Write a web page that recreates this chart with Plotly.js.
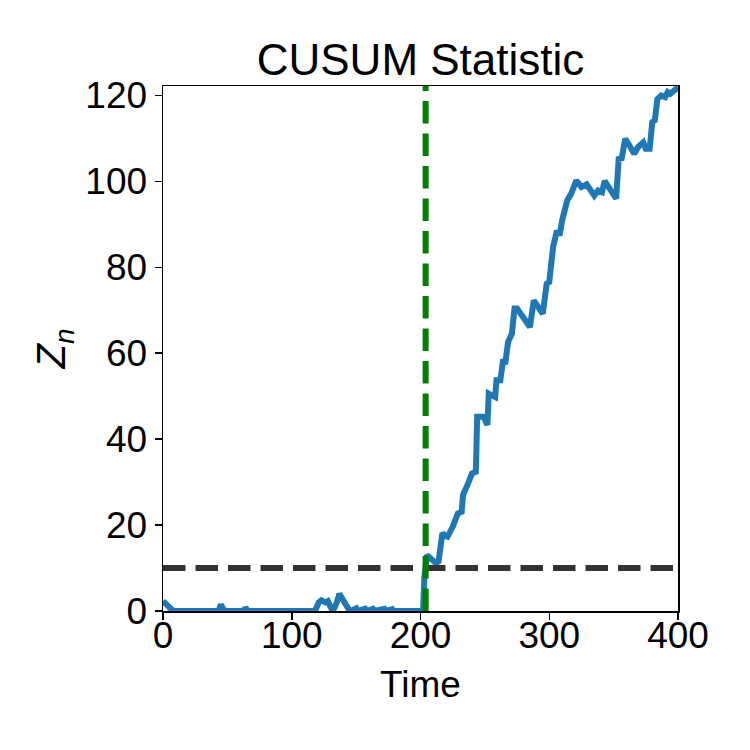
<!DOCTYPE html>
<html>
<head>
<meta charset="utf-8">
<script src="https://cdn.plot.ly/plotly-3.0.1.min.js"></script>
<style>html,body{margin:0;padding:0;background:#fff}#chart{width:750px;height:750px}</style>
</head>
<body>
<div id="chart"></div>
<script>
const timeVals = [0,1,3,6,8,43,45,47,49,63,64,66,96,97,98,118,121,123,126,128,130,132,135,137,140,142,144,146,150,151,157,158,163,164,172,173,178,179,185,186,202,203,205,208,212,214,217,219,221,225,229,232,233,237,240,243,244,249,252,253,258,259,262,264,266,268,271,273,275,285,288,295,298,300,303,306,308,310,312,314,317,321,325,329,335,338,341,343,352,354,356,359,363,366,369,373,375,378,380,382,384,387,390,392,394,398,400];
const cusumVals = [2.3,2.0,1.2,0.3,0,0,1.5,0.3,0,0,0.8,0,0,0.3,0,0,2.0,2.5,2.0,2.3,1.0,0,2.0,4.0,2.5,1.2,0.5,0,0.6,0,0.5,0,0.5,0,0.5,0,0.4,0,0.3,0,0,8,13.0,12.2,11.1,11.5,18.1,17.5,17.3,19.6,22.7,23.1,27,29.7,32,32.4,45.2,45.2,43.3,50.6,49.8,53.7,53.7,58,58,62.6,64.6,70.4,70.4,66.1,72.3,69.2,76.2,76.6,84.7,88.6,87.4,90.9,93.3,95.6,97.1,100.2,98.7,99.3,96.7,97.9,97.5,100.1,96,105.7,104.9,109.9,108,106.4,108,109.1,107.6,107.6,113.8,114.2,119.2,120,119.6,120.8,120.4,121.5,121.9];
const threshold = 10;
const changeTime = 204;
const xTicks = [0,100,200,300,400];
const yTicks = [0,20,40,60,80,100,120];

const font = "Liberation Sans, Arial, Helvetica, sans-serif";

const traces = [{
  x: timeVals, y: cusumVals, type: 'scatter', mode: 'lines',
  line: {color: '#1f77b4', width: 6}, hoverinfo: 'skip'
}];

const layout = {
  width: 750, height: 750,
  paper_bgcolor: '#fff', plot_bgcolor: '#fff',
  margin: {l: 163, r: 72, t: 86, b: 139, pad: 0},
  showlegend: false,
  font: {family: font, color: '#000'},
  title: {text: 'CUSUM Statistic', font: {family: font, size: 44, color: '#000'},
          x: 0.5607, xanchor: 'center', xref: 'container', y: 0.92, yanchor: 'middle', yref: 'container'},
  xaxis: {
    range: [0, 400], tickvals: xTicks, ticktext: xTicks.map(String),
    ticks: 'outside', ticklen: 7, tickwidth: 1.5, tickcolor: '#000',
    showline: true, mirror: true, linewidth: 1.5, linecolor: '#000',
    showgrid: false, zeroline: false, ticklabelstandoff: -16,
    tickfont: {family: font, size: 37, color: '#000'},
    title: {text: 'Time', font: {family: font, size: 37, color: '#000'}, standoff: 16}
  },
  yaxis: {
    range: [0, 122.2], tickvals: yTicks, ticktext: yTicks.map(String),
    ticks: 'outside', ticklen: 7, tickwidth: 1.5, tickcolor: '#000',
    showline: true, mirror: true, linewidth: 1.5, linecolor: '#000',
    showgrid: false, zeroline: false,
    tickfont: {family: font, size: 37, color: '#000'},
    title: {text: '<i>Z</i><sub><i>n</i></sub>', font: {family: font, size: 40, color: '#000'}, standoff: 7}
  },
  shapes: [
    {type: 'line', xref: 'paper', yref: 'y', x0: 0, x1: 1, y0: threshold, y1: threshold,
     line: {color: '#333333', width: 6, dash: '22.5px,10px'}, layer: 'above'},
    {type: 'line', xref: 'x', yref: 'paper', x0: changeTime, x1: changeTime, y0: 0, y1: 1,
     line: {color: '#008000', width: 6, dash: '22.5px,10px'}, layer: 'above'}
  ]
};

Plotly.newPlot('chart', traces, layout, {staticPlot: true, displayModeBar: false});
</script>
</body>
</html>
